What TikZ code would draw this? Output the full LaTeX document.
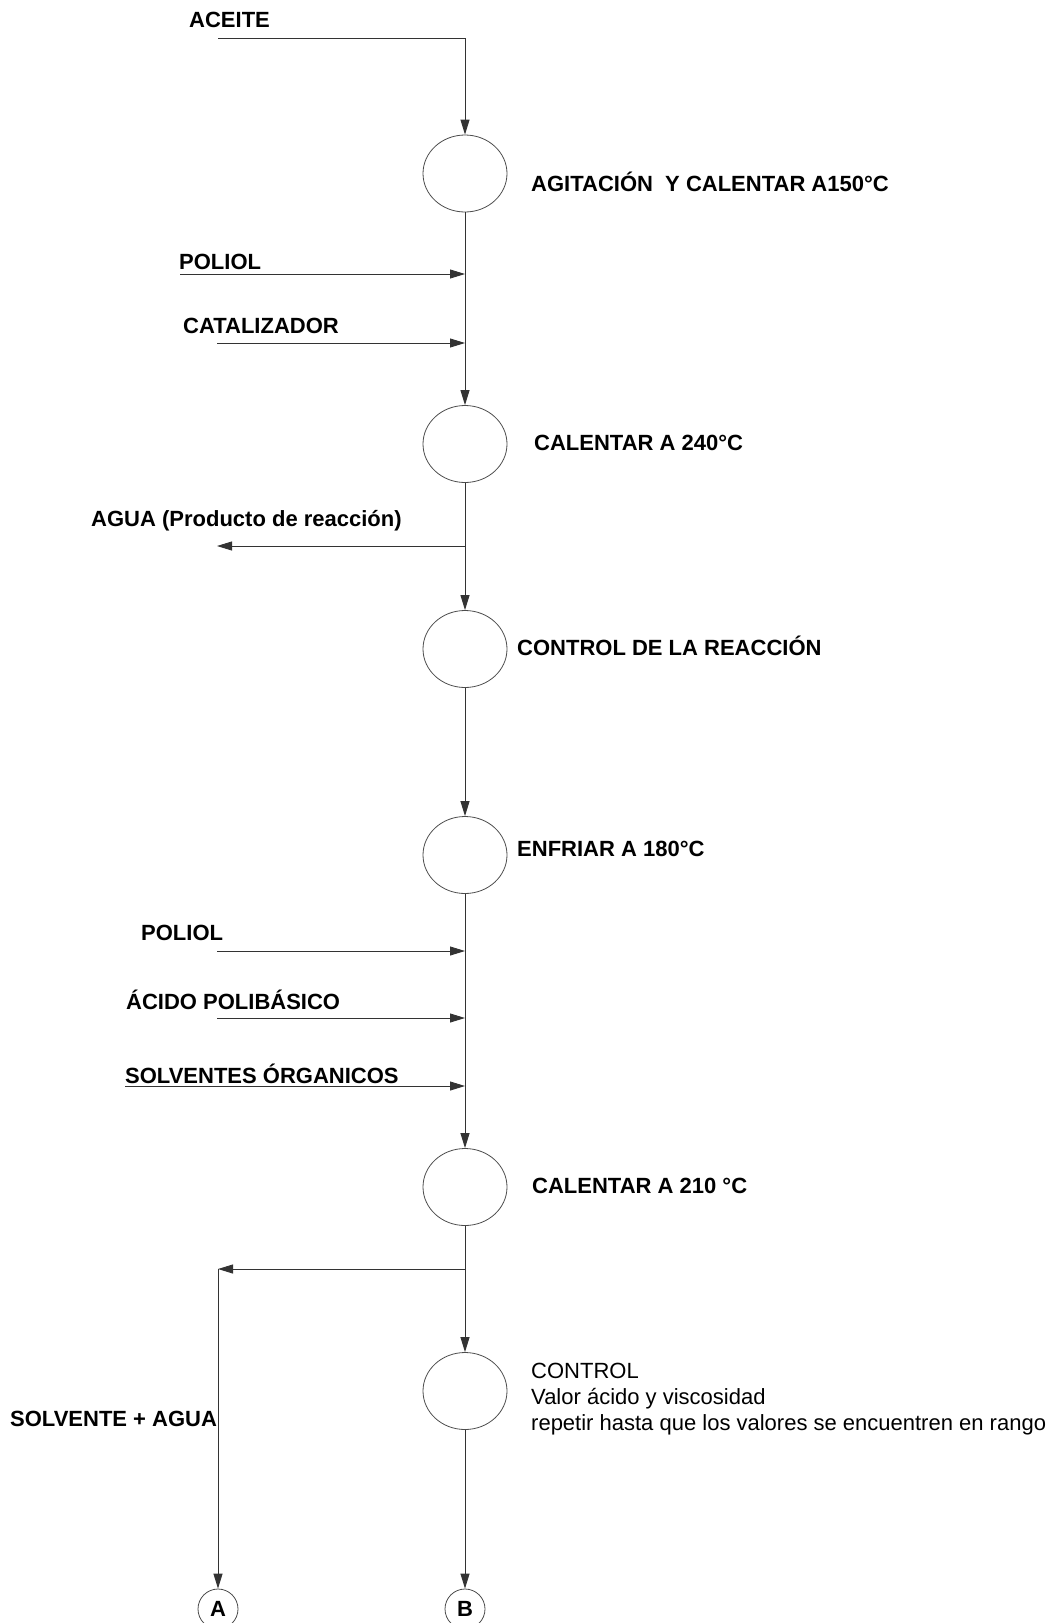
\documentclass[tikz,border=0pt]{standalone}
\usepackage{fontspec}
\setmainfont{Liberation Sans}
\usetikzlibrary{arrows.meta,shapes.geometric,positioning}
\tikzset{
 pf line/.style={line width=.9pt,draw=black!80},
 pf flow/.style={pf line,-{Triangle[length=15pt,width=9pt]}},
 pf step/.style={ellipse,draw=black!70,line width=.8pt,minimum width=84pt,
                 minimum height=77pt,inner sep=0pt},
 pf link/.style={circle,draw=black!70,line width=.8pt,minimum size=40pt,
                 inner sep=0pt,font=\fontsize{22}{26}\selectfont\bfseries},
 pf label/.style={anchor=west,inner sep=0pt,
                  font=\fontsize{22}{26}\selectfont\bfseries},
 pf note/.style={anchor=west,inner sep=0pt,align=left,
                 font=\fontsize{22}{26}\selectfont}
}

\begin{document}
\begin{tikzpicture}[x=1pt,y=-1pt]
 \useasboundingbox (0,0) rectangle (1056,1623);
 % process steps
 \foreach \n/\y in {1/173.5,2/444,3/649,4/855,5/1187,6/1391}{
   \node[pf step] (c\n) at (465,\y) {};
 }
 \node[pf link] (A) at (218,1609) {A};
 \node[pf link] (B) at (465,1609) {B};
 % main line
 \coordinate (aceite in) at (218,38);
 \coordinate (aceite turn) at (465,38);
 \draw[pf flow] (aceite in) -- (aceite turn) -- (c1);
 \foreach \a/\b in {1/2,2/3,3/4,4/5,5/6}{\draw[pf flow] (c\a) -- (c\b);}
 \draw[pf flow] (c6) -- (B);
 % feeds
 \foreach \nm/\xs/\y in {poliolA/180/274,catal/217/343,poliolB/217/951,
                         acido/217/1018,solv/125/1086}{
   \coordinate (\nm in) at (\xs,\y);
   \draw[pf flow] (\nm in) -- (\nm in -| c1);
 }
 % outlets
 \coordinate (agua out) at (217,546);
 \draw[pf flow] (agua out -| c2) -- (agua out);
 \coordinate (turn) at (218,1269);
 \draw[pf flow] (turn -| c5) -- (turn);
 \draw[pf flow] (turn) -- (A);
 % labels
 \foreach \nm/\x/\y/\t in {
   aceite/189/20/ACEITE,
   agit/531/182/AGITACIÓN\ \ Y CALENTAR A150°C,
   poliolA/179/262/POLIOL,
   catal/183/326/CATALIZADOR,
   cal240/534/443/CALENTAR A 240°C,
   agua/91/521/AGUA (Producto de reacción),
   reac/517/646/CONTROL DE LA REACCIÓN,
   enfr/517/849/ENFRIAR A 180°C,
   poliolB/141/933/POLIOL,
   acido/126/1000/ÁCIDO POLIBÁSICO,
   solv/125/1074/SOLVENTES ÓRGANICOS,
   cal210/532/1186/CALENTAR A 210 °C,
   solvag/10/1419/SOLVENTE + AGUA}{
   \node[pf label] (l-\nm) at (\x,\y) {\t};
 }
 \node[pf note] (l-control) at (531,1399)
   {CONTROL\\Valor ácido y viscosidad\\repetir hasta que los valores se encuentren en rango};
\end{tikzpicture}
\end{document}
